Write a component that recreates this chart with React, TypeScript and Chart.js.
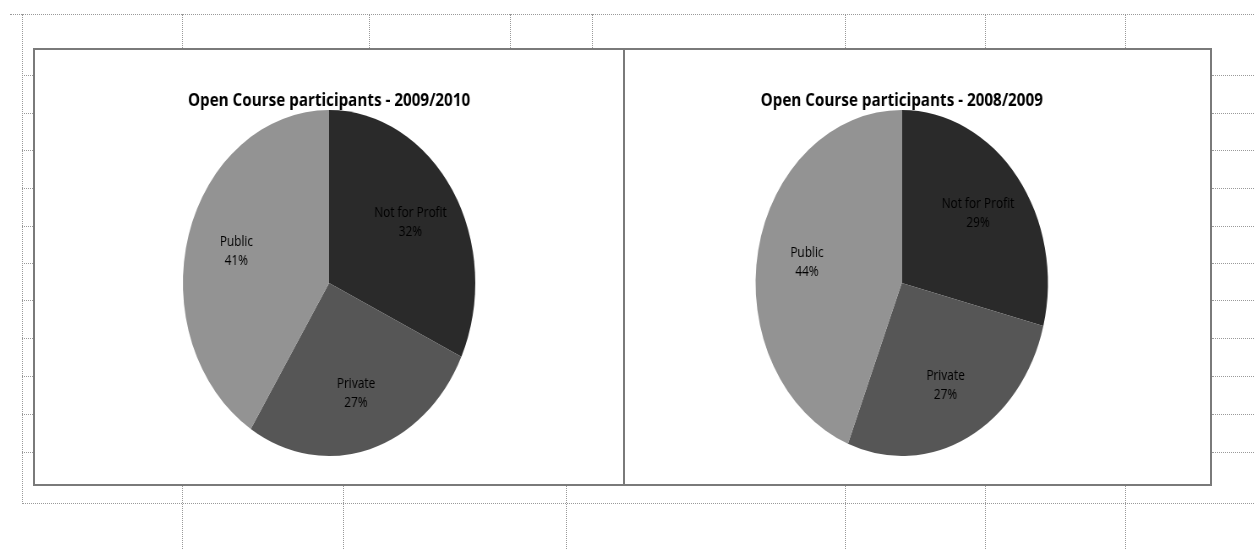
import React, { useEffect, useRef } from "react";
import { Chart, registerables } from "chart.js";

Chart.register(...registerables);

const categories = ["Not for Profit", "Private", "Public"];
const values2010 = [32, 27, 41];
const values2009 = [29, 27, 44];
const titleLeft = "Open Course participants - 2009/2010";
const titleRight = "Open Course participants - 2008/2009";
const sliceColors = ["#2a2a2a", "#565656", "#939393"];

const SX = 0.845;

const labelPlugin = {
  id: "sliceLabels",
  afterDatasetsDraw(chart: any) {
    const ctx = chart.ctx;
    const meta = chart.getDatasetMeta(0);
    const data = chart.data.datasets[0].data as number[];
    const total = data.reduce((a: number, b: number) => a + b, 0);
    ctx.save();
    ctx.font = "14px 'Open Sans'";
    ctx.fillStyle = "#000";
    ctx.textAlign = "center";
    ctx.textBaseline = "middle";
    meta.data.forEach((arc: any, i: number) => {
      const p = arc.getProps(["x", "y", "startAngle", "endAngle", "outerRadius"], true);
      const mid = (p.startAngle + p.endAngle) / 2;
      const r = p.outerRadius * 0.66;
      const x = p.x + Math.cos(mid) * r;
      const y = p.y + Math.sin(mid) * r;
      ctx.fillText(chart.data.labels[i], x, y - 9);
      ctx.fillText(Math.round((data[i] / total) * 100) + "%", x, y + 10);
    });
    ctx.restore();
  },
};

function PieBox(props: { left: number; width: number; title: string; values: number[]; padRight: number }) {
  const ref = useRef<HTMLCanvasElement>(null);
  const cw = Math.round(props.width / SX);
  const ch = 434;
  useEffect(() => {
    const chart = new Chart(ref.current as HTMLCanvasElement, {
      type: "pie",
      data: {
        labels: categories,
        datasets: [
          {
            data: props.values,
            backgroundColor: sliceColors,
            borderWidth: 0,
          },
        ],
      },
      options: {
        responsive: false,
        animation: false,
        devicePixelRatio: 1,
        layout: { padding: { bottom: 28, right: props.padRight, left: 0, top: 0 } },
        plugins: {
          legend: { display: false },
          tooltip: { enabled: false },
          title: {
            display: true,
            text: props.title,
            color: "#000",
            font: { family: "'Open Sans'", size: 18, weight: "bold", lineHeight: 1 },
            padding: { top: 42, bottom: 0 },
          },
        },
      },
      plugins: [labelPlugin],
    } as any);
    return () => chart.destroy();
  }, []);
  return (
    <div
      style={{
        position: "absolute",
        left: props.left,
        top: 50,
        width: props.width,
        height: ch,
        overflow: "hidden",
        background: "#fff",
      }}
    >
      <canvas
        ref={ref}
        width={cw}
        height={ch}
        style={{ transform: `scaleX(${SX})`, transformOrigin: "0 0", display: "block" }}
      />
    </div>
  );
}

const dot = "1px dotted #9a9a9a";

export default function App() {
  const hLinesRight = [75, 113, 150, 188, 226, 263, 300, 338, 376, 414, 452];
  const topTicks = [182, 369, 510, 592, 845, 985, 1125];
  const bottomTicks = [182, 343, 566, 845, 985, 1125];
  return (
    <div style={{ position: "fixed", left: 0, top: 0, width: 1254, height: 549, background: "#fff", overflow: "hidden" }}>
      <div style={{ position: "absolute", left: 10, top: 14, width: 1244, height: 0, borderTop: dot }} />
      <div style={{ position: "absolute", left: 22, top: 14, width: 0, height: 490, borderLeft: dot }} />
      <div style={{ position: "absolute", left: 22, top: 503, width: 1232, height: 0, borderTop: dot }} />
      {topTicks.map((x) => (
        <div key={"t" + x} style={{ position: "absolute", left: x, top: 14, width: 0, height: 34, borderLeft: dot }} />
      ))}
      {bottomTicks.map((x) => (
        <div key={"b" + x} style={{ position: "absolute", left: x, top: 486, width: 0, height: 63, borderLeft: dot }} />
      ))}
      {hLinesRight.map((y) => (
        <div key={"r" + y} style={{ position: "absolute", left: 1212, top: y, width: 42, height: 0, borderTop: dot }} />
      ))}
      {hLinesRight.map((y) => (
        <div key={"l" + y} style={{ position: "absolute", left: 22, top: y, width: 11, height: 0, borderTop: dot }} />
      ))}
      <div
        style={{
          position: "absolute",
          left: 33,
          top: 48,
          width: 1175,
          height: 434,
          border: "2px solid #7a7a7a",
        }}
      />
      <div style={{ position: "absolute", left: 623, top: 48, width: 2, height: 438, background: "#7a7a7a" }} />
      <PieBox left={35} width={588} title={titleLeft} values={values2010} padRight={0} />
      <PieBox left={625} width={584} title={titleRight} values={values2009} padRight={36} />
    </div>
  );
}
